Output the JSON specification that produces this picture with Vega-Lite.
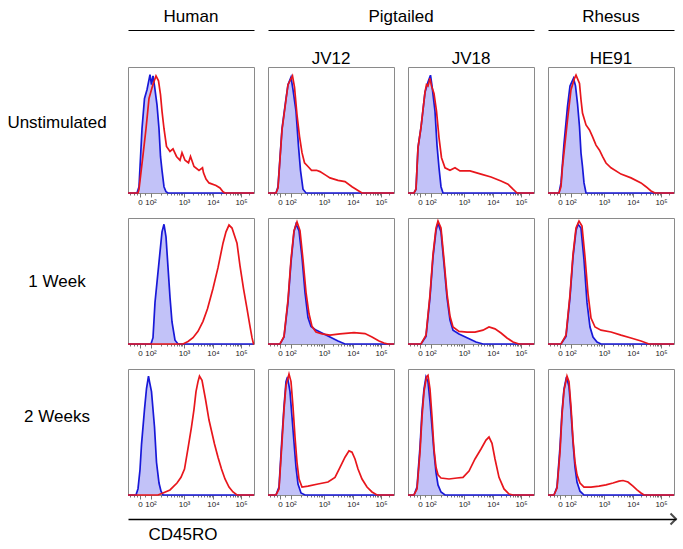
{
"$schema":"https://vega.github.io/schema/vega-lite/v6.json",
"padding":{"left":0,"top":7,"right":0,"bottom":0},
"background":"white",
"spacing":0,
"vconcat":[
 {"hconcat":[
  {"width":114,"height":1,"data":{"values":[{}]},"mark":{"type":"point","opacity":0}},
  {"width":126,"height":1,"title":"Human","data":{"values":[{"sub":"Human"}]},"mark":{"type":"point","opacity":0},
   "encoding":{"x":{"field":"sub","type":"nominal","scale":{"type":"band","paddingInner":0.1,"paddingOuter":0},"axis":{"title":null,"ticks":false,"labels":false,"domainColor":"#000","domainWidth":1}}}},
  {"width":266,"height":1,"title":"Pigtailed","data":{"values":[{"sub":"JV12"},{"sub":"JV18"}]},"mark":{"type":"point","opacity":0},
   "encoding":{"x":{"field":"sub","type":"nominal","scale":{"type":"band","paddingInner":0.1,"paddingOuter":0},"axis":{"title":null,"ticks":false,"labelAngle":0,"labelFontSize":17,"labelColor":"#000","labelPadding":20,"domainColor":"#000","domainWidth":1}}}},
  {"width":126,"height":1,"title":"Rhesus","data":{"values":[{"sub":"HE91"}]},"mark":{"type":"point","opacity":0},
   "encoding":{"x":{"field":"sub","type":"nominal","scale":{"type":"band","paddingInner":0.1,"paddingOuter":0},"axis":{"title":null,"ticks":false,"labelAngle":0,"labelFontSize":17,"labelColor":"#000","labelPadding":20,"domainColor":"#000","domainWidth":1}}}}
 ],"spacing":14},
 {"vconcat":[
 {"hconcat":[
  {"width":114,"height":126,"data":{"values":[{"label":"Unstimulated"}]},"mark":{"type":"text","fontSize":17,"dy":-7},"encoding":{"text":{"field":"label"}}},
  {"width":126,"height":126,"view":{"stroke":"#8a8a8a"},
   "encoding":{"x":{"field":"ch","type":"quantitative","scale":{"domain":[0,252],"nice":false,"zero":false},"axis":{"title":null,"domain":false,"values":[4,11,18,24,33,45,65.2,77,85.3,91.8,97.1,101.6,105.5,108.9,112,129.5,139.7,146.9,152.5,157.1,161,164.4,167.3,170,186.9,196.7,203.7,209.1,213.6,217.3,220.6,223.4,226,242.9],"labelExpr":"datum.value==24?'0':datum.value==45?'10²':datum.value==112?'10³':datum.value==170?'10⁴':datum.value==226?'10⁵':''","labelOverlap":false,"labelFlush":false,"labelFontSize":8,"labelColor":"#222","labelPadding":1,"tickColor":"#777","tickSize":{"condition":{"test":"indexof([24,45,112,170,226],datum.value)>=0","value":4},"value":2}}},
    "y":{"field":"pct","type":"quantitative","scale":{"domain":[0,100],"nice":false},"axis":null}},
   "layer":[
    {"data":{"name":"human_unst_ctrl"},"mark":{"type":"area","color":"#a8a8f5","line":{"color":"#1818d8","strokeWidth":1.7}}},
    {"data":{"name":"human_unst_stain"},"mark":{"type":"line","color":"#e8161c","strokeWidth":1.7}}]},
  {"width":126,"height":126,"view":{"stroke":"#8a8a8a"},
   "encoding":{"x":{"field":"ch","type":"quantitative","scale":{"domain":[0,252],"nice":false,"zero":false},"axis":{"title":null,"domain":false,"values":[4,11,18,24,33,45,65.2,77,85.3,91.8,97.1,101.6,105.5,108.9,112,129.5,139.7,146.9,152.5,157.1,161,164.4,167.3,170,186.9,196.7,203.7,209.1,213.6,217.3,220.6,223.4,226,242.9],"labelExpr":"datum.value==24?'0':datum.value==45?'10²':datum.value==112?'10³':datum.value==170?'10⁴':datum.value==226?'10⁵':''","labelOverlap":false,"labelFlush":false,"labelFontSize":8,"labelColor":"#222","labelPadding":1,"tickColor":"#777","tickSize":{"condition":{"test":"indexof([24,45,112,170,226],datum.value)>=0","value":4},"value":2}}},
    "y":{"field":"pct","type":"quantitative","scale":{"domain":[0,100],"nice":false},"axis":null}},
   "layer":[
    {"data":{"name":"jv12_unst_ctrl"},"mark":{"type":"area","color":"#a8a8f5","line":{"color":"#1818d8","strokeWidth":1.7}}},
    {"data":{"name":"jv12_unst_stain"},"mark":{"type":"line","color":"#e8161c","strokeWidth":1.7}}]},
  {"width":126,"height":126,"view":{"stroke":"#8a8a8a"},
   "encoding":{"x":{"field":"ch","type":"quantitative","scale":{"domain":[0,252],"nice":false,"zero":false},"axis":{"title":null,"domain":false,"values":[4,11,18,24,33,45,65.2,77,85.3,91.8,97.1,101.6,105.5,108.9,112,129.5,139.7,146.9,152.5,157.1,161,164.4,167.3,170,186.9,196.7,203.7,209.1,213.6,217.3,220.6,223.4,226,242.9],"labelExpr":"datum.value==24?'0':datum.value==45?'10²':datum.value==112?'10³':datum.value==170?'10⁴':datum.value==226?'10⁵':''","labelOverlap":false,"labelFlush":false,"labelFontSize":8,"labelColor":"#222","labelPadding":1,"tickColor":"#777","tickSize":{"condition":{"test":"indexof([24,45,112,170,226],datum.value)>=0","value":4},"value":2}}},
    "y":{"field":"pct","type":"quantitative","scale":{"domain":[0,100],"nice":false},"axis":null}},
   "layer":[
    {"data":{"name":"jv18_unst_ctrl"},"mark":{"type":"area","color":"#a8a8f5","line":{"color":"#1818d8","strokeWidth":1.7}}},
    {"data":{"name":"jv18_unst_stain"},"mark":{"type":"line","color":"#e8161c","strokeWidth":1.7}}]},
  {"width":126,"height":126,"view":{"stroke":"#8a8a8a"},
   "encoding":{"x":{"field":"ch","type":"quantitative","scale":{"domain":[0,252],"nice":false,"zero":false},"axis":{"title":null,"domain":false,"values":[4,11,18,24,33,45,65.2,77,85.3,91.8,97.1,101.6,105.5,108.9,112,129.5,139.7,146.9,152.5,157.1,161,164.4,167.3,170,186.9,196.7,203.7,209.1,213.6,217.3,220.6,223.4,226,242.9],"labelExpr":"datum.value==24?'0':datum.value==45?'10²':datum.value==112?'10³':datum.value==170?'10⁴':datum.value==226?'10⁵':''","labelOverlap":false,"labelFlush":false,"labelFontSize":8,"labelColor":"#222","labelPadding":1,"tickColor":"#777","tickSize":{"condition":{"test":"indexof([24,45,112,170,226],datum.value)>=0","value":4},"value":2}}},
    "y":{"field":"pct","type":"quantitative","scale":{"domain":[0,100],"nice":false},"axis":null}},
   "layer":[
    {"data":{"name":"he91_unst_ctrl"},"mark":{"type":"area","color":"#a8a8f5","line":{"color":"#1818d8","strokeWidth":1.7}}},
    {"data":{"name":"he91_unst_stain"},"mark":{"type":"line","color":"#e8161c","strokeWidth":1.7}}]}
 ],"spacing":14,"bounds":"flush"},
 {"hconcat":[
  {"width":114,"height":126,"data":{"values":[{"label":"1 Week"}]},"mark":{"type":"text","fontSize":17,"dy":1},"encoding":{"text":{"field":"label"}}},
  {"width":126,"height":126,"view":{"stroke":"#8a8a8a"},
   "encoding":{"x":{"field":"ch","type":"quantitative","scale":{"domain":[0,252],"nice":false,"zero":false},"axis":{"title":null,"domain":false,"values":[4,11,18,24,33,45,65.2,77,85.3,91.8,97.1,101.6,105.5,108.9,112,129.5,139.7,146.9,152.5,157.1,161,164.4,167.3,170,186.9,196.7,203.7,209.1,213.6,217.3,220.6,223.4,226,242.9],"labelExpr":"datum.value==24?'0':datum.value==45?'10²':datum.value==112?'10³':datum.value==170?'10⁴':datum.value==226?'10⁵':''","labelOverlap":false,"labelFlush":false,"labelFontSize":8,"labelColor":"#222","labelPadding":1,"tickColor":"#777","tickSize":{"condition":{"test":"indexof([24,45,112,170,226],datum.value)>=0","value":4},"value":2}}},
    "y":{"field":"pct","type":"quantitative","scale":{"domain":[0,100],"nice":false},"axis":null}},
   "layer":[
    {"data":{"name":"human_w1_ctrl"},"mark":{"type":"area","color":"#a8a8f5","line":{"color":"#1818d8","strokeWidth":1.7}}},
    {"data":{"name":"human_w1_stain"},"mark":{"type":"line","color":"#e8161c","strokeWidth":1.7}}]},
  {"width":126,"height":126,"view":{"stroke":"#8a8a8a"},
   "encoding":{"x":{"field":"ch","type":"quantitative","scale":{"domain":[0,252],"nice":false,"zero":false},"axis":{"title":null,"domain":false,"values":[4,11,18,24,33,45,65.2,77,85.3,91.8,97.1,101.6,105.5,108.9,112,129.5,139.7,146.9,152.5,157.1,161,164.4,167.3,170,186.9,196.7,203.7,209.1,213.6,217.3,220.6,223.4,226,242.9],"labelExpr":"datum.value==24?'0':datum.value==45?'10²':datum.value==112?'10³':datum.value==170?'10⁴':datum.value==226?'10⁵':''","labelOverlap":false,"labelFlush":false,"labelFontSize":8,"labelColor":"#222","labelPadding":1,"tickColor":"#777","tickSize":{"condition":{"test":"indexof([24,45,112,170,226],datum.value)>=0","value":4},"value":2}}},
    "y":{"field":"pct","type":"quantitative","scale":{"domain":[0,100],"nice":false},"axis":null}},
   "layer":[
    {"data":{"name":"jv12_w1_ctrl"},"mark":{"type":"area","color":"#a8a8f5","line":{"color":"#1818d8","strokeWidth":1.7}}},
    {"data":{"name":"jv12_w1_stain"},"mark":{"type":"line","color":"#e8161c","strokeWidth":1.7}}]},
  {"width":126,"height":126,"view":{"stroke":"#8a8a8a"},
   "encoding":{"x":{"field":"ch","type":"quantitative","scale":{"domain":[0,252],"nice":false,"zero":false},"axis":{"title":null,"domain":false,"values":[4,11,18,24,33,45,65.2,77,85.3,91.8,97.1,101.6,105.5,108.9,112,129.5,139.7,146.9,152.5,157.1,161,164.4,167.3,170,186.9,196.7,203.7,209.1,213.6,217.3,220.6,223.4,226,242.9],"labelExpr":"datum.value==24?'0':datum.value==45?'10²':datum.value==112?'10³':datum.value==170?'10⁴':datum.value==226?'10⁵':''","labelOverlap":false,"labelFlush":false,"labelFontSize":8,"labelColor":"#222","labelPadding":1,"tickColor":"#777","tickSize":{"condition":{"test":"indexof([24,45,112,170,226],datum.value)>=0","value":4},"value":2}}},
    "y":{"field":"pct","type":"quantitative","scale":{"domain":[0,100],"nice":false},"axis":null}},
   "layer":[
    {"data":{"name":"jv18_w1_ctrl"},"mark":{"type":"area","color":"#a8a8f5","line":{"color":"#1818d8","strokeWidth":1.7}}},
    {"data":{"name":"jv18_w1_stain"},"mark":{"type":"line","color":"#e8161c","strokeWidth":1.7}}]},
  {"width":126,"height":126,"view":{"stroke":"#8a8a8a"},
   "encoding":{"x":{"field":"ch","type":"quantitative","scale":{"domain":[0,252],"nice":false,"zero":false},"axis":{"title":null,"domain":false,"values":[4,11,18,24,33,45,65.2,77,85.3,91.8,97.1,101.6,105.5,108.9,112,129.5,139.7,146.9,152.5,157.1,161,164.4,167.3,170,186.9,196.7,203.7,209.1,213.6,217.3,220.6,223.4,226,242.9],"labelExpr":"datum.value==24?'0':datum.value==45?'10²':datum.value==112?'10³':datum.value==170?'10⁴':datum.value==226?'10⁵':''","labelOverlap":false,"labelFlush":false,"labelFontSize":8,"labelColor":"#222","labelPadding":1,"tickColor":"#777","tickSize":{"condition":{"test":"indexof([24,45,112,170,226],datum.value)>=0","value":4},"value":2}}},
    "y":{"field":"pct","type":"quantitative","scale":{"domain":[0,100],"nice":false},"axis":null}},
   "layer":[
    {"data":{"name":"he91_w1_ctrl"},"mark":{"type":"area","color":"#a8a8f5","line":{"color":"#1818d8","strokeWidth":1.7}}},
    {"data":{"name":"he91_w1_stain"},"mark":{"type":"line","color":"#e8161c","strokeWidth":1.7}}]}
 ],"spacing":14,"bounds":"flush"},
 {"hconcat":[
  {"width":114,"height":126,"data":{"values":[{"label":"2 Weeks"}]},"mark":{"type":"text","fontSize":17,"dy":-15},"encoding":{"text":{"field":"label"}}},
  {"width":126,"height":126,"view":{"stroke":"#8a8a8a"},
   "encoding":{"x":{"field":"ch","type":"quantitative","scale":{"domain":[0,252],"nice":false,"zero":false},"axis":{"title":null,"domain":false,"values":[4,11,18,24,33,45,65.2,77,85.3,91.8,97.1,101.6,105.5,108.9,112,129.5,139.7,146.9,152.5,157.1,161,164.4,167.3,170,186.9,196.7,203.7,209.1,213.6,217.3,220.6,223.4,226,242.9],"labelExpr":"datum.value==24?'0':datum.value==45?'10²':datum.value==112?'10³':datum.value==170?'10⁴':datum.value==226?'10⁵':''","labelOverlap":false,"labelFlush":false,"labelFontSize":8,"labelColor":"#222","labelPadding":1,"tickColor":"#777","tickSize":{"condition":{"test":"indexof([24,45,112,170,226],datum.value)>=0","value":4},"value":2}}},
    "y":{"field":"pct","type":"quantitative","scale":{"domain":[0,100],"nice":false},"axis":null}},
   "layer":[
    {"data":{"name":"human_w2_ctrl"},"mark":{"type":"area","color":"#a8a8f5","line":{"color":"#1818d8","strokeWidth":1.7}}},
    {"data":{"name":"human_w2_stain"},"mark":{"type":"line","color":"#e8161c","strokeWidth":1.7}}]},
  {"width":126,"height":126,"view":{"stroke":"#8a8a8a"},
   "encoding":{"x":{"field":"ch","type":"quantitative","scale":{"domain":[0,252],"nice":false,"zero":false},"axis":{"title":null,"domain":false,"values":[4,11,18,24,33,45,65.2,77,85.3,91.8,97.1,101.6,105.5,108.9,112,129.5,139.7,146.9,152.5,157.1,161,164.4,167.3,170,186.9,196.7,203.7,209.1,213.6,217.3,220.6,223.4,226,242.9],"labelExpr":"datum.value==24?'0':datum.value==45?'10²':datum.value==112?'10³':datum.value==170?'10⁴':datum.value==226?'10⁵':''","labelOverlap":false,"labelFlush":false,"labelFontSize":8,"labelColor":"#222","labelPadding":1,"tickColor":"#777","tickSize":{"condition":{"test":"indexof([24,45,112,170,226],datum.value)>=0","value":4},"value":2}}},
    "y":{"field":"pct","type":"quantitative","scale":{"domain":[0,100],"nice":false},"axis":null}},
   "layer":[
    {"data":{"name":"jv12_w2_ctrl"},"mark":{"type":"area","color":"#a8a8f5","line":{"color":"#1818d8","strokeWidth":1.7}}},
    {"data":{"name":"jv12_w2_stain"},"mark":{"type":"line","color":"#e8161c","strokeWidth":1.7}}]},
  {"width":126,"height":126,"view":{"stroke":"#8a8a8a"},
   "encoding":{"x":{"field":"ch","type":"quantitative","scale":{"domain":[0,252],"nice":false,"zero":false},"axis":{"title":null,"domain":false,"values":[4,11,18,24,33,45,65.2,77,85.3,91.8,97.1,101.6,105.5,108.9,112,129.5,139.7,146.9,152.5,157.1,161,164.4,167.3,170,186.9,196.7,203.7,209.1,213.6,217.3,220.6,223.4,226,242.9],"labelExpr":"datum.value==24?'0':datum.value==45?'10²':datum.value==112?'10³':datum.value==170?'10⁴':datum.value==226?'10⁵':''","labelOverlap":false,"labelFlush":false,"labelFontSize":8,"labelColor":"#222","labelPadding":1,"tickColor":"#777","tickSize":{"condition":{"test":"indexof([24,45,112,170,226],datum.value)>=0","value":4},"value":2}}},
    "y":{"field":"pct","type":"quantitative","scale":{"domain":[0,100],"nice":false},"axis":null}},
   "layer":[
    {"data":{"name":"jv18_w2_ctrl"},"mark":{"type":"area","color":"#a8a8f5","line":{"color":"#1818d8","strokeWidth":1.7}}},
    {"data":{"name":"jv18_w2_stain"},"mark":{"type":"line","color":"#e8161c","strokeWidth":1.7}}]},
  {"width":126,"height":126,"view":{"stroke":"#8a8a8a"},
   "encoding":{"x":{"field":"ch","type":"quantitative","scale":{"domain":[0,252],"nice":false,"zero":false},"axis":{"title":null,"domain":false,"values":[4,11,18,24,33,45,65.2,77,85.3,91.8,97.1,101.6,105.5,108.9,112,129.5,139.7,146.9,152.5,157.1,161,164.4,167.3,170,186.9,196.7,203.7,209.1,213.6,217.3,220.6,223.4,226,242.9],"labelExpr":"datum.value==24?'0':datum.value==45?'10²':datum.value==112?'10³':datum.value==170?'10⁴':datum.value==226?'10⁵':''","labelOverlap":false,"labelFlush":false,"labelFontSize":8,"labelColor":"#222","labelPadding":1,"tickColor":"#777","tickSize":{"condition":{"test":"indexof([24,45,112,170,226],datum.value)>=0","value":4},"value":2}}},
    "y":{"field":"pct","type":"quantitative","scale":{"domain":[0,100],"nice":false},"axis":null}},
   "layer":[
    {"data":{"name":"he91_w2_ctrl"},"mark":{"type":"area","color":"#a8a8f5","line":{"color":"#1818d8","strokeWidth":1.7}}},
    {"data":{"name":"he91_w2_stain"},"mark":{"type":"line","color":"#e8161c","strokeWidth":1.7}}]}
 ],"spacing":14,"bounds":"flush"}
 ],"spacing":10},
 {"hconcat":[
  {"width":114,"height":10,"data":{"values":[{}]},"mark":{"type":"point","opacity":0}},
  {"width":548,"height":10,"data":{"values":[{"end":1}]},
   "mark":{"type":"point","shape":"M-1,-1L0,0L-1,1","filled":false,"stroke":"#000","strokeWidth":2,"size":120},
   "encoding":{"x":{"field":"end","type":"quantitative","scale":{"domain":[0,1],"nice":false},"axis":{"domainColor":"#000","domainWidth":1.5,"ticks":false,"labels":false,"title":"CD45RO","titleFontSize":17,"titleFontWeight":"normal","titleColor":"#000","titleAlign":"left","titleX":20,"titlePadding":7}},
    "y":{"value":"height"}}}
 ],"spacing":14}
],
"datasets":{
 "human_unst_ctrl":[{"ch":0,"pct":0},{"ch":18,"pct":0},{"ch":22,"pct":5},{"ch":28,"pct":51},{"ch":33,"pct":75},{"ch":38,"pct":82},{"ch":44,"pct":94},{"ch":47,"pct":86},{"ch":50,"pct":93},{"ch":53,"pct":85},{"ch":58,"pct":70},{"ch":62,"pct":51},{"ch":65,"pct":29},{"ch":68,"pct":18},{"ch":72,"pct":5},{"ch":76,"pct":1},{"ch":80,"pct":0},{"ch":252,"pct":0}],
 "human_unst_stain":[{"ch":0,"pct":0},{"ch":20,"pct":0},{"ch":22,"pct":3},{"ch":30,"pct":30},{"ch":36,"pct":51},{"ch":42,"pct":75},{"ch":49,"pct":85},{"ch":56,"pct":93},{"ch":61,"pct":89},{"ch":65,"pct":78},{"ch":68,"pct":65},{"ch":72,"pct":51},{"ch":77,"pct":37},{"ch":84,"pct":33},{"ch":90,"pct":35},{"ch":97,"pct":29},{"ch":104,"pct":26},{"ch":108,"pct":32},{"ch":114,"pct":26},{"ch":121,"pct":24},{"ch":125,"pct":29},{"ch":132,"pct":21},{"ch":142,"pct":18},{"ch":149,"pct":20},{"ch":151,"pct":16},{"ch":156,"pct":11},{"ch":162,"pct":8},{"ch":176,"pct":6},{"ch":184,"pct":4},{"ch":190,"pct":1},{"ch":194,"pct":0},{"ch":252,"pct":0}],
 "jv12_unst_ctrl":[{"ch":0,"pct":0},{"ch":16,"pct":0},{"ch":20,"pct":5},{"ch":28,"pct":51},{"ch":36,"pct":75},{"ch":40,"pct":86},{"ch":46,"pct":92},{"ch":50,"pct":82},{"ch":56,"pct":65},{"ch":61,"pct":37},{"ch":65,"pct":18},{"ch":70,"pct":3},{"ch":76,"pct":0},{"ch":252,"pct":0}],
 "jv12_unst_stain":[{"ch":0,"pct":0},{"ch":16,"pct":0},{"ch":20,"pct":4},{"ch":28,"pct":50},{"ch":36,"pct":74},{"ch":40,"pct":86},{"ch":49,"pct":93},{"ch":53,"pct":84},{"ch":58,"pct":62},{"ch":63,"pct":45},{"ch":68,"pct":32},{"ch":73,"pct":24},{"ch":80,"pct":21},{"ch":87,"pct":18},{"ch":97,"pct":18},{"ch":104,"pct":17},{"ch":116,"pct":14},{"ch":124,"pct":12},{"ch":140,"pct":10},{"ch":154,"pct":9},{"ch":168,"pct":5},{"ch":180,"pct":2},{"ch":188,"pct":0},{"ch":252,"pct":0}],
 "jv18_unst_ctrl":[{"ch":0,"pct":0},{"ch":12,"pct":0},{"ch":16,"pct":3},{"ch":20,"pct":36},{"ch":26,"pct":52},{"ch":34,"pct":80},{"ch":40,"pct":88},{"ch":45,"pct":93.5},{"ch":48,"pct":85},{"ch":54,"pct":65},{"ch":58,"pct":38},{"ch":62,"pct":20},{"ch":66,"pct":5},{"ch":70,"pct":0},{"ch":252,"pct":0}],
 "jv18_unst_stain":[{"ch":0,"pct":0},{"ch":12,"pct":0},{"ch":16,"pct":3},{"ch":20,"pct":36},{"ch":26,"pct":52},{"ch":34,"pct":80},{"ch":37,"pct":86},{"ch":40,"pct":85},{"ch":44,"pct":91},{"ch":47,"pct":85},{"ch":52,"pct":79},{"ch":57,"pct":65},{"ch":62,"pct":44},{"ch":67,"pct":28},{"ch":74,"pct":20},{"ch":84,"pct":18},{"ch":94,"pct":20},{"ch":104,"pct":17.5},{"ch":124,"pct":17.5},{"ch":146,"pct":15},{"ch":166,"pct":12.7},{"ch":186,"pct":9.5},{"ch":200,"pct":7},{"ch":210,"pct":3},{"ch":218,"pct":0},{"ch":252,"pct":0}],
 "he91_unst_ctrl":[{"ch":0,"pct":0},{"ch":22,"pct":0},{"ch":26,"pct":8},{"ch":32,"pct":39},{"ch":39,"pct":68.5},{"ch":44,"pct":85},{"ch":51,"pct":91},{"ch":55,"pct":85},{"ch":59,"pct":71},{"ch":63,"pct":52.6},{"ch":66,"pct":31.7},{"ch":69,"pct":21},{"ch":72,"pct":8},{"ch":76,"pct":0},{"ch":252,"pct":0}],
 "he91_unst_stain":[{"ch":0,"pct":0},{"ch":22,"pct":0},{"ch":26,"pct":5},{"ch":29,"pct":21},{"ch":39,"pct":58},{"ch":46,"pct":82},{"ch":53,"pct":91},{"ch":56,"pct":93.6},{"ch":63,"pct":87},{"ch":66,"pct":74},{"ch":69,"pct":63.5},{"ch":76,"pct":54},{"ch":83,"pct":50},{"ch":89,"pct":44.7},{"ch":96,"pct":38},{"ch":103,"pct":34},{"ch":109,"pct":29},{"ch":116,"pct":23.8},{"ch":126,"pct":20},{"ch":146,"pct":15},{"ch":166,"pct":12},{"ch":186,"pct":8},{"ch":196,"pct":5},{"ch":206,"pct":1.6},{"ch":214,"pct":0},{"ch":252,"pct":0}],
 "human_w1_ctrl":[{"ch":0,"pct":0},{"ch":46,"pct":0},{"ch":50,"pct":5},{"ch":54,"pct":33},{"ch":62,"pct":65},{"ch":68,"pct":89},{"ch":72,"pct":95},{"ch":76,"pct":85},{"ch":80,"pct":61},{"ch":84,"pct":37},{"ch":88,"pct":17.5},{"ch":94,"pct":3},{"ch":100,"pct":0},{"ch":252,"pct":0}],
 "human_w1_stain":[{"ch":0,"pct":0},{"ch":110,"pct":0},{"ch":120,"pct":2},{"ch":130,"pct":5},{"ch":140,"pct":10},{"ch":150,"pct":18},{"ch":159,"pct":28},{"ch":170,"pct":44},{"ch":180,"pct":60.6},{"ch":190,"pct":80},{"ch":196,"pct":89},{"ch":202,"pct":94.4},{"ch":208,"pct":92},{"ch":218,"pct":80},{"ch":224,"pct":62},{"ch":231,"pct":44},{"ch":238,"pct":28},{"ch":244,"pct":14},{"ch":248,"pct":5},{"ch":251,"pct":0},{"ch":252,"pct":0}],
 "jv12_w1_ctrl":[{"ch":0,"pct":0},{"ch":24,"pct":0},{"ch":32,"pct":5.5},{"ch":40,"pct":33},{"ch":46,"pct":65},{"ch":52,"pct":89},{"ch":56,"pct":95},{"ch":62,"pct":90},{"ch":68,"pct":69},{"ch":74,"pct":41},{"ch":80,"pct":21},{"ch":86,"pct":14},{"ch":96,"pct":11},{"ch":108,"pct":8.7},{"ch":124,"pct":5.5},{"ch":140,"pct":2.4},{"ch":154,"pct":0},{"ch":252,"pct":0}],
 "jv12_w1_stain":[{"ch":0,"pct":0},{"ch":24,"pct":0},{"ch":32,"pct":6},{"ch":40,"pct":35},{"ch":46,"pct":67},{"ch":52,"pct":90},{"ch":58,"pct":97},{"ch":64,"pct":90},{"ch":70,"pct":67},{"ch":76,"pct":41},{"ch":82,"pct":24},{"ch":88,"pct":14},{"ch":96,"pct":9.5},{"ch":108,"pct":8},{"ch":124,"pct":7},{"ch":144,"pct":8},{"ch":172,"pct":9},{"ch":194,"pct":8.3},{"ch":208,"pct":5.5},{"ch":222,"pct":2.4},{"ch":232,"pct":0.8},{"ch":240,"pct":0},{"ch":252,"pct":0}],
 "jv18_w1_ctrl":[{"ch":0,"pct":0},{"ch":26,"pct":0},{"ch":36,"pct":6},{"ch":44,"pct":37},{"ch":50,"pct":69},{"ch":56,"pct":90},{"ch":60,"pct":96},{"ch":66,"pct":89},{"ch":72,"pct":63.5},{"ch":78,"pct":37},{"ch":84,"pct":19},{"ch":90,"pct":11},{"ch":102,"pct":8},{"ch":118,"pct":5},{"ch":136,"pct":1.6},{"ch":150,"pct":0},{"ch":252,"pct":0}],
 "jv18_w1_stain":[{"ch":0,"pct":0},{"ch":26,"pct":0},{"ch":36,"pct":7},{"ch":44,"pct":39},{"ch":50,"pct":71},{"ch":56,"pct":92},{"ch":60,"pct":97.6},{"ch":66,"pct":92},{"ch":72,"pct":67},{"ch":78,"pct":40},{"ch":84,"pct":22},{"ch":90,"pct":13.5},{"ch":102,"pct":10},{"ch":118,"pct":9.5},{"ch":134,"pct":9.5},{"ch":150,"pct":11},{"ch":162,"pct":13.5},{"ch":174,"pct":12},{"ch":186,"pct":8.7},{"ch":198,"pct":4.8},{"ch":210,"pct":1.6},{"ch":222,"pct":0},{"ch":252,"pct":0}],
 "he91_w1_ctrl":[{"ch":0,"pct":0},{"ch":26,"pct":0},{"ch":36,"pct":6},{"ch":44,"pct":37},{"ch":50,"pct":69},{"ch":56,"pct":90},{"ch":60,"pct":95},{"ch":66,"pct":92},{"ch":72,"pct":67},{"ch":78,"pct":33},{"ch":84,"pct":13.5},{"ch":90,"pct":5.5},{"ch":98,"pct":1.6},{"ch":106,"pct":0},{"ch":252,"pct":0}],
 "he91_w1_stain":[{"ch":0,"pct":0},{"ch":26,"pct":0},{"ch":36,"pct":7},{"ch":44,"pct":39},{"ch":50,"pct":71},{"ch":56,"pct":92},{"ch":62,"pct":97.6},{"ch":68,"pct":93.6},{"ch":74,"pct":69},{"ch":80,"pct":40},{"ch":86,"pct":20.6},{"ch":94,"pct":13.5},{"ch":106,"pct":11},{"ch":126,"pct":9.5},{"ch":146,"pct":7},{"ch":166,"pct":4.8},{"ch":186,"pct":2.4},{"ch":202,"pct":0},{"ch":252,"pct":0}],
 "human_w2_ctrl":[{"ch":0,"pct":0},{"ch":16,"pct":0},{"ch":20,"pct":5},{"ch":24,"pct":20},{"ch":27,"pct":40},{"ch":33,"pct":68},{"ch":37,"pct":84.5},{"ch":41,"pct":94.3},{"ch":43,"pct":90},{"ch":47,"pct":82},{"ch":53,"pct":54},{"ch":57,"pct":26},{"ch":62,"pct":9.5},{"ch":66,"pct":3},{"ch":70,"pct":0},{"ch":252,"pct":0}],
 "human_w2_stain":[{"ch":0,"pct":0},{"ch":60,"pct":0},{"ch":70,"pct":1.6},{"ch":84,"pct":4},{"ch":98,"pct":9.5},{"ch":106,"pct":14},{"ch":113,"pct":20.6},{"ch":120,"pct":37},{"ch":127,"pct":54},{"ch":132,"pct":68},{"ch":136,"pct":82},{"ch":140,"pct":90},{"ch":143,"pct":94.3},{"ch":148,"pct":91},{"ch":155,"pct":76},{"ch":162,"pct":59.5},{"ch":173,"pct":40.5},{"ch":180,"pct":30},{"ch":187,"pct":20.6},{"ch":194,"pct":12.7},{"ch":202,"pct":6.3},{"ch":210,"pct":2.4},{"ch":218,"pct":0},{"ch":252,"pct":0}],
 "jv12_w2_ctrl":[{"ch":0,"pct":0},{"ch":16,"pct":0},{"ch":22,"pct":6.3},{"ch":28,"pct":46},{"ch":32,"pct":70},{"ch":36,"pct":90},{"ch":39,"pct":93.7},{"ch":44,"pct":82},{"ch":48,"pct":62},{"ch":52,"pct":42},{"ch":56,"pct":22},{"ch":60,"pct":8.7},{"ch":66,"pct":1.6},{"ch":74,"pct":0},{"ch":252,"pct":0}],
 "jv12_w2_stain":[{"ch":0,"pct":0},{"ch":16,"pct":0},{"ch":22,"pct":4.8},{"ch":28,"pct":42},{"ch":32,"pct":68},{"ch":36,"pct":87},{"ch":42,"pct":96},{"ch":46,"pct":90},{"ch":50,"pct":70},{"ch":54,"pct":46},{"ch":58,"pct":26},{"ch":62,"pct":12.7},{"ch":68,"pct":6.3},{"ch":80,"pct":7},{"ch":100,"pct":8.7},{"ch":120,"pct":10.3},{"ch":134,"pct":14},{"ch":144,"pct":22},{"ch":154,"pct":30},{"ch":162,"pct":35},{"ch":168,"pct":34},{"ch":174,"pct":28.6},{"ch":180,"pct":20.6},{"ch":188,"pct":12.7},{"ch":198,"pct":6.3},{"ch":208,"pct":2.4},{"ch":218,"pct":0},{"ch":252,"pct":0}],
 "jv18_w2_ctrl":[{"ch":0,"pct":0},{"ch":12,"pct":0},{"ch":18,"pct":6.3},{"ch":24,"pct":38},{"ch":28,"pct":66},{"ch":32,"pct":84},{"ch":36,"pct":93.7},{"ch":40,"pct":90},{"ch":44,"pct":74},{"ch":48,"pct":54},{"ch":52,"pct":34},{"ch":56,"pct":18},{"ch":60,"pct":8},{"ch":66,"pct":2.4},{"ch":74,"pct":0},{"ch":252,"pct":0}],
 "jv18_w2_stain":[{"ch":0,"pct":0},{"ch":12,"pct":0},{"ch":18,"pct":4.8},{"ch":24,"pct":34},{"ch":28,"pct":62},{"ch":32,"pct":82},{"ch":37,"pct":93.7},{"ch":40,"pct":95},{"ch":44,"pct":84},{"ch":48,"pct":62},{"ch":52,"pct":36.5},{"ch":56,"pct":22},{"ch":60,"pct":16},{"ch":66,"pct":13.5},{"ch":82,"pct":12.7},{"ch":98,"pct":13.5},{"ch":110,"pct":14},{"ch":122,"pct":19},{"ch":134,"pct":28.6},{"ch":146,"pct":36.5},{"ch":156,"pct":43.6},{"ch":162,"pct":46},{"ch":168,"pct":41},{"ch":174,"pct":28.6},{"ch":182,"pct":14},{"ch":192,"pct":4.8},{"ch":202,"pct":0.8},{"ch":210,"pct":0},{"ch":252,"pct":0}],
 "he91_w2_ctrl":[{"ch":0,"pct":0},{"ch":12,"pct":0},{"ch":18,"pct":6.3},{"ch":24,"pct":38},{"ch":28,"pct":66},{"ch":32,"pct":84},{"ch":37,"pct":93.7},{"ch":42,"pct":86},{"ch":46,"pct":66},{"ch":50,"pct":42},{"ch":54,"pct":22},{"ch":58,"pct":10.3},{"ch":64,"pct":3},{"ch":72,"pct":0},{"ch":252,"pct":0}],
 "he91_w2_stain":[{"ch":0,"pct":0},{"ch":12,"pct":0},{"ch":18,"pct":5.5},{"ch":24,"pct":34},{"ch":28,"pct":63.5},{"ch":32,"pct":83},{"ch":38,"pct":94.4},{"ch":42,"pct":90},{"ch":46,"pct":70},{"ch":50,"pct":44},{"ch":54,"pct":26},{"ch":58,"pct":16},{"ch":64,"pct":9.5},{"ch":72,"pct":6.3},{"ch":86,"pct":6.3},{"ch":102,"pct":7},{"ch":116,"pct":8},{"ch":130,"pct":9.5},{"ch":142,"pct":11},{"ch":150,"pct":11.5},{"ch":160,"pct":10.3},{"ch":170,"pct":7},{"ch":178,"pct":4},{"ch":186,"pct":1.6},{"ch":192,"pct":0},{"ch":252,"pct":0}]
},
"config":{
 "view":{"stroke":null},
 "font":"Liberation Sans",
 "axis":{"grid":false,"labelFont":"Liberation Sans","titleFont":"Liberation Sans"},
 "title":{"font":"Liberation Sans","fontSize":17,"fontWeight":"normal","color":"#000","offset":1,"anchor":"middle"},
 "text":{"font":"Liberation Sans","color":"#000"}
}
}
